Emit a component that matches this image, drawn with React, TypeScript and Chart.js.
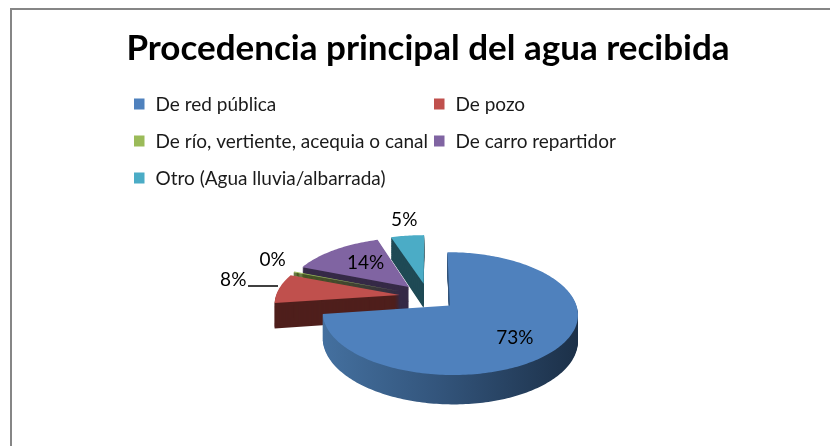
import React, { useEffect, useRef } from "react";
import { Chart, registerables } from "chart.js";

Chart.register(...registerables);

const title = "Procedencia principal del agua recibida";
const categories = [
  "De red pública",
  "De pozo",
  "De río, vertiente, acequia o canal",
  "De carro repartidor",
  "Otro (Agua lluvia/albarrada)",
];
const values = [72.8, 8, 0.3, 13.9, 5];
const percentLabels = ["73%", "8%", "0%", "14%", "5%"];

const colours = ["#4F81BD", "#C0504D", "#9BBB59", "#8064A2", "#4BACC6"];
const wallColours = ["#2f4f75", "#4f1f1c", "#4a5c20", "#362a47", "#1f4a55"];
const labelReach = [0.69, 1.43, 1.3, 0.6, 1.38];
const labelTurn = [0.11, 0.08, 0.11, 0.05, 0.015];

const FONT = "Lato, 'Open Sans', sans-serif";
const RX = 124;
const RY = 58;
const PERSPECTIVE = 0.13;
const DEPTH = 25;

function project(cx: number, cy: number, u: number, v: number) {
  const w = 1 - PERSPECTIVE * v;
  return { x: cx + (RX * u) / w, y: cy + (RY * v) / w, w };
}

const pie3d = {
  id: "pie3d",
  beforeDatasetsDraw(chart: any) {
    const ctx = chart.ctx as CanvasRenderingContext2D;
    const arcs = chart.getDatasetMeta(0).data as any[];
    const order = [4, 3, 2, 1, 0];
    for (const i of order) {
      const a = arcs[i];
      const r = a.outerRadius;
      const mid = (a.startAngle + a.endAngle) / 2;
      const ox = (a.options.offset / r) * Math.cos(mid);
      const oy = (a.options.offset / r) * Math.sin(mid);
      const steps = Math.max(2, Math.ceil((a.endAngle - a.startAngle) / 0.02));
      const pts = [project(a.x, a.y, ox, oy)];
      for (let s = 0; s <= steps; s++) {
        const t = a.startAngle + ((a.endAngle - a.startAngle) * s) / steps;
        pts.push(project(a.x, a.y, ox + Math.cos(t), oy + Math.sin(t)));
      }
      let wall: any = wallColours[i];
      if (i === 0) {
        const g = ctx.createLinearGradient(a.x - 105, 0, a.x + 150, 0);
        g.addColorStop(0, "#44709f");
        g.addColorStop(0.45, "#33557c");
        g.addColorStop(1, "#1c3048");
        wall = g;
      }
      ctx.save();
      ctx.fillStyle = wall;
      for (let d = DEPTH; d > 0; d -= 1) {
        ctx.beginPath();
        pts.forEach((p, k) => {
          const y = p.y + d / p.w;
          if (k === 0) ctx.moveTo(p.x, y);
          else ctx.lineTo(p.x, y);
        });
        ctx.closePath();
        ctx.fill();
      }
      ctx.fillStyle = a.options.backgroundColor;
      ctx.beginPath();
      pts.forEach((p, k) => {
        if (k === 0) ctx.moveTo(p.x, p.y);
        else ctx.lineTo(p.x, p.y);
      });
      ctx.closePath();
      ctx.fill();
      ctx.restore();
    }
    return false;
  },
  afterDraw(chart: any) {
    const ctx = chart.ctx as CanvasRenderingContext2D;
    const arcs = chart.getDatasetMeta(0).data as any[];
    ctx.save();
    // frame
    ctx.strokeStyle = "#868686";
    ctx.lineWidth = 2;
    ctx.beginPath();
    ctx.moveTo(11, 446);
    ctx.lineTo(11, 9);
    ctx.lineTo(830, 9);
    ctx.stroke();
    // slice labels
    ctx.fillStyle = "#000";
    ctx.textAlign = "center";
    ctx.textBaseline = "middle";
    ctx.font = `19px ${FONT}`;
    arcs.forEach((a, i) => {
      const r = a.outerRadius;
      const mid = (a.startAngle + a.endAngle) / 2;
      const k = labelReach[i];
      const off = a.options.offset / r;
      const turned = mid + labelTurn[i];
      const p = project(
        a.x,
        a.y,
        off * Math.cos(mid) + k * Math.cos(turned),
        off * Math.sin(mid) + k * Math.sin(turned)
      );
      ctx.fillText(percentLabels[i], p.x, p.y);
    });
    // leader line of the 8% label
    ctx.strokeStyle = "#000";
    ctx.lineWidth = 1.5;
    ctx.beginPath();
    ctx.moveTo(248, 286);
    ctx.lineTo(278, 286);
    ctx.stroke();
    // legend
    const cols = [134, 434];
    const rows = [104.5, 141.5, 178.5];
    ctx.textAlign = "left";
    ctx.font = `19px ${FONT}`;
    categories.forEach((c, i) => {
      const x = cols[i % 2];
      const y = rows[Math.floor(i / 2)];
      ctx.fillStyle = colours[i];
      ctx.fillRect(x, y - 6, 10.5, 11);
      ctx.fillStyle = "#1a1a1a";
      ctx.fillText(c, x + 21.5, y);
    });
    ctx.restore();
  },
};

export default function App() {
  const ref = useRef<HTMLCanvasElement>(null);
  useEffect(() => {
    const chart = new Chart(ref.current!, {
      type: "pie",
      data: {
        labels: categories,
        datasets: [
          {
            data: values,
            backgroundColor: colours,
            borderWidth: 0,
            offset: 23,
          },
        ],
      },
      options: {
        responsive: false,
        animation: false,
        events: [],
        layout: { padding: { left: 26, right: 0, top: 0, bottom: 38 } },
        plugins: {
          legend: { display: false },
          tooltip: { enabled: false },
          title: {
            display: true,
            text: title,
            color: "#000",
            font: { family: FONT, size: 35, weight: "bold" },
            padding: { top: 28, bottom: 115 },
          },
        },
      },
      plugins: [pie3d],
    } as any);
    return () => chart.destroy();
  }, []);
  return (
    <canvas
      ref={ref}
      width={830}
      height={446}
      style={{ position: "absolute", left: 0, top: 0, display: "block" }}
    />
  );
}
